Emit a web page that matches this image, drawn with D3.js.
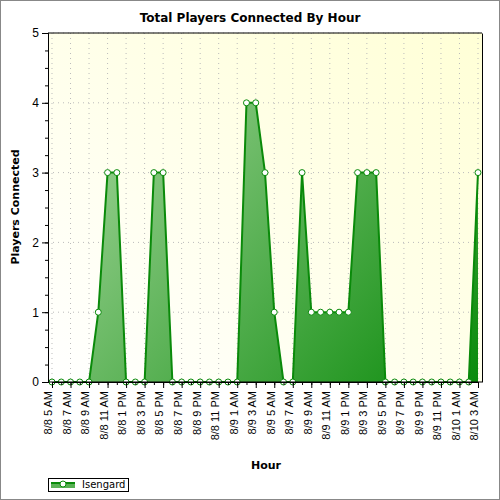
<!DOCTYPE html>
<html><head><meta charset="utf-8">
<script src="https://cdn.jsdelivr.net/npm/d3@7"></script>
<style>body{margin:0;background:#fff}svg{font-family:Verdana,"DejaVu Sans",sans-serif}</style>
</head><body><svg id="c" width="500" height="500"></svg>
<script>
const hours=["8/8 5 AM","8/8 6 AM","8/8 7 AM","8/8 8 AM","8/8 9 AM","8/8 10 AM","8/8 11 AM","8/8 12 PM","8/8 1 PM","8/8 2 PM","8/8 3 PM","8/8 4 PM","8/8 5 PM","8/8 6 PM","8/8 7 PM","8/8 8 PM","8/8 9 PM","8/8 10 PM","8/8 11 PM","8/9 12 AM","8/9 1 AM","8/9 2 AM","8/9 3 AM","8/9 4 AM","8/9 5 AM","8/9 6 AM","8/9 7 AM","8/9 8 AM","8/9 9 AM","8/9 10 AM","8/9 11 AM","8/9 12 PM","8/9 1 PM","8/9 2 PM","8/9 3 PM","8/9 4 PM","8/9 5 PM","8/9 6 PM","8/9 7 PM","8/9 8 PM","8/9 9 PM","8/9 10 PM","8/9 11 PM","8/10 12 AM","8/10 1 AM","8/10 2 AM","8/10 3 AM"];
const players=[0,0,0,0,0,1,3,3,0,0,0,3,3,0,0,0,0,0,0,0,0,4,4,3,1,0,0,3,1,1,1,1,1,3,3,3,0,0,0,0,0,0,0,0,0,0,3];
const yTicks=[0,1,2,3,4,5];
const seriesName="Isengard";

const svg=d3.select("#c");
const L=48,R=482,T=33,B=382;
const defs=svg.append("defs");
const bg=defs.append("linearGradient").attr("id","bg").attr("x1","0").attr("y1","1").attr("x2","1").attr("y2","0");
bg.append("stop").attr("offset","0").attr("stop-color","#ffffff");
bg.append("stop").attr("offset","1").attr("stop-color","#ffffd6");
const ag=defs.append("linearGradient").attr("id","ag").attr("gradientUnits","userSpaceOnUse").attr("x1",L).attr("y1",T).attr("x2",R).attr("y2",B);
ag.append("stop").attr("offset","0").attr("stop-color","#b4deaa");
ag.append("stop").attr("offset","1").attr("stop-color","#0a8a0a");

svg.append("rect").attr("x",0.5).attr("y",0.5).attr("width",499).attr("height",499).attr("fill","#fff").attr("stroke","#888");
svg.append("rect").attr("x",L).attr("y",T).attr("width",R-L).attr("height",B-T).attr("fill","url(#bg)");

const x=d3.scalePoint().domain(hours).range([52,478]);
const y=d3.scaleLinear().domain([0,5]).range([B,T]);
const labelHours=hours.filter((d,i)=>i%2==0);

const g=svg.append("g");
g.selectAll(".gy").data(yTicks.slice(1)).join("line").attr("x1",L).attr("x2",R).attr("y1",d=>y(d)).attr("y2",d=>y(d)).attr("stroke","#bbb").attr("stroke-dasharray","1,4");
g.selectAll(".gx").data(labelHours).join("line").attr("x1",d=>x(d)).attr("x2",d=>x(d)).attr("y1",T).attr("y2",B).attr("stroke","#bbb").attr("stroke-dasharray","1,4");

const pts=players.map((v,i)=>[hours[i],v]);
svg.append("path").attr("d",d3.area().x(d=>x(d[0])).y0(B).y1(d=>y(d[1]))(pts)).attr("fill","url(#ag)");
svg.append("path").attr("d",d3.line().x(d=>x(d[0])).y(d=>y(d[1]))(pts)).attr("fill","none").attr("stroke","#0a8a0a").attr("stroke-width",2);
svg.selectAll(".m").data(pts).join("circle").attr("cx",d=>x(d[0])).attr("cy",d=>y(d[1])).attr("r",3).attr("fill","#fff").attr("stroke","#0a8a0a").attr("stroke-width",1);

// axes
const ya=svg.append("g").attr("transform",`translate(${L},0)`).call(d3.axisLeft(y).tickValues(yTicks).tickSize(5).tickFormat(d3.format("d")));
ya.call(d3.axisLeft(y).tickValues(d3.range(0,5.01,0.25)).tickSize(3).tickFormat(""));
svg.append("g").attr("transform",`translate(${L},0)`).call(d3.axisLeft(y).tickValues(yTicks).tickSize(6).tickFormat(d3.format("d")))
  .call(a=>a.selectAll("text").attr("font-size",12).attr("fill","#000")).call(a=>a.select(".domain").attr("stroke","#000"));
svg.append("g").attr("transform",`translate(${R},0)`).call(d3.axisRight(y).tickValues(yTicks).tickSize(0).tickFormat(""));
svg.append("line").attr("x1",L).attr("x2",R).attr("y1",T).attr("y2",T).attr("stroke","#000");
const xa=svg.append("g").attr("transform",`translate(0,${B})`);
xa.call(d3.axisBottom(x).tickValues(hours).tickSize(3).tickFormat(""));
xa.append("g").call(d3.axisBottom(x).tickValues(labelHours).tickSize(6).tickFormat(d=>d.replace(/ (\d+ [AP]M)$/,' $1'))).call(a=>a.select(".domain").remove())
  .selectAll("text").attr("font-size",11).attr("fill","#000").attr("transform","rotate(-90)").attr("text-anchor","end").attr("x",-9).attr("y",-4).attr("dy","0.35em");
svg.append("line").attr("x1",L).attr("x2",R).attr("y1",B).attr("y2",B).attr("stroke","#000");
svg.selectAll(".domain").attr("stroke","#000");

svg.append("text").attr("x",250).attr("y",22).attr("text-anchor","middle").attr("font-weight","bold").attr("font-size",12).text("Total Players Connected By Hour");
svg.append("text").attr("transform","translate(19,207) rotate(-90)").attr("text-anchor","middle").attr("font-weight","bold").attr("font-size",11).text("Players Connected");
svg.append("text").attr("x",266).attr("y",469).attr("text-anchor","middle").attr("font-weight","bold").attr("font-size",11).text("Hour");

const lg=svg.append("g");
lg.append("rect").attr("x",48.5).attr("y",478.5).attr("width",80).attr("height",13).attr("fill","#fff").attr("stroke","#000");
lg.append("rect").attr("x",51).attr("y",482).attr("width",24).attr("height",6).attr("fill","url(#ag)");
lg.append("line").attr("x1",51).attr("x2",75).attr("y1",483).attr("y2",483).attr("stroke","#0a8a0a").attr("stroke-width",2);
lg.append("circle").attr("cx",63).attr("cy",484).attr("r",3).attr("fill","#fff").attr("stroke","#0a8a0a");
lg.append("text").attr("x",82).attr("y",488).attr("font-size",10).text(seriesName);
</script></body></html>
